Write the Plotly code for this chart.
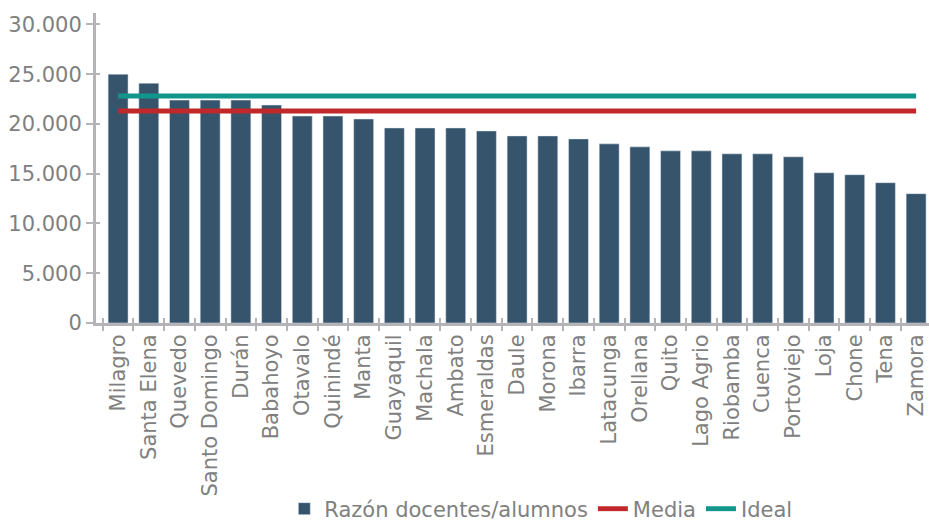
import plotly.graph_objects as go

# Razón docentes/alumnos por ciudad
ciudades = ["Milagro", "Santa Elena", "Quevedo", "Santo Domingo", "Durán", "Babahoyo",
            "Otavalo", "Quinindé", "Manta", "Guayaquil", "Machala", "Ambato",
            "Esmeraldas", "Daule", "Morona", "Ibarra", "Latacunga", "Orellana",
            "Quito", "Lago Agrio", "Riobamba", "Cuenca", "Portoviejo", "Loja",
            "Chone", "Tena", "Zamora"]
razon = [25.0, 24.1, 22.4, 22.4, 22.4, 21.9, 20.8, 20.8, 20.5, 19.6, 19.6, 19.6,
         19.3, 18.8, 18.8, 18.5, 18.0, 17.7, 17.3, 17.3, 17.0, 17.0, 16.7, 15.1,
         14.9, 14.1, 13.0]
media = 21.3
ideal = 22.8

y_ticks = [0, 5, 10, 15, 20, 25, 30]
y_labels = ["0", "5.000", "10.000", "15.000", "20.000", "25.000", "30.000"]

gris = "#b4b4b8"
texto = "#808080"
fuente = "DejaVu Sans"

fig = go.Figure()
fig.add_trace(go.Bar(x=ciudades, y=razon, name="Razón docentes/alumnos",
                     marker_color="#36556c"))
fig.add_trace(go.Scatter(x=ciudades, y=[media] * len(ciudades), name="Media",
                         mode="lines", line=dict(color="#c0282a", width=5)))
fig.add_trace(go.Scatter(x=ciudades, y=[ideal] * len(ciudades), name="Ideal",
                         mode="lines", line=dict(color="#10968a", width=5)))
# eje auxiliar para que las marcas crucen la línea del eje
fig.add_trace(go.Scatter(x=[None], y=[None], xaxis="x2", yaxis="y2",
                         showlegend=False, hoverinfo="skip"))

fnt = dict(family=fuente, size=21, color=texto)
x_rango = [-0.72, 26.42]

fig.update_layout(
    width=929, height=524,
    margin=dict(l=96, r=0, t=13, b=201, autoexpand=False),
    paper_bgcolor="white", plot_bgcolor="white",
    font=fnt,
    bargap=0.35,
    showlegend=True,
    legend=dict(orientation="h", x=0.534, xanchor="center",
                y=-0.60, yanchor="middle", font=fnt, traceorder="normal"),
    xaxis=dict(type="category", showgrid=False, showline=True, linecolor=gris,
               linewidth=3, ticks="outside", tickson="boundaries", ticklen=5,
               tickwidth=2, tickcolor=gris, tickangle=-90, automargin=False,
               tickfont=fnt, range=x_rango),
    yaxis=dict(range=[0, 31.15], showgrid=False, showline=True, linecolor=gris,
               linewidth=3, ticks="outside", ticklen=7, tickwidth=2,
               tickcolor=gris, tickvals=y_ticks, ticktext=y_labels,
               automargin=False, tickfont=fnt, zeroline=False),
    xaxis2=dict(overlaying="x", range=x_rango, showgrid=False,
                showline=False, ticks="inside", ticklen=5, tickwidth=2,
                tickcolor=gris, tickvals=[i + 0.5 for i in range(-1, 27)],
                showticklabels=False, zeroline=False, automargin=False),
    yaxis2=dict(overlaying="y", range=[0, 31.15], showgrid=False,
                showline=False, ticks="inside", ticklen=4, tickwidth=2,
                tickcolor=gris, tickvals=y_ticks, showticklabels=False,
                zeroline=False, automargin=False),
)

# quitar el margen por defecto de la página para que la figura ocupe toda la ventana
fig.write_html("out.html", config={"displayModeBar": False},
               post_script="document.body.style.margin='0';"
                           "document.body.style.overflow='hidden';")
